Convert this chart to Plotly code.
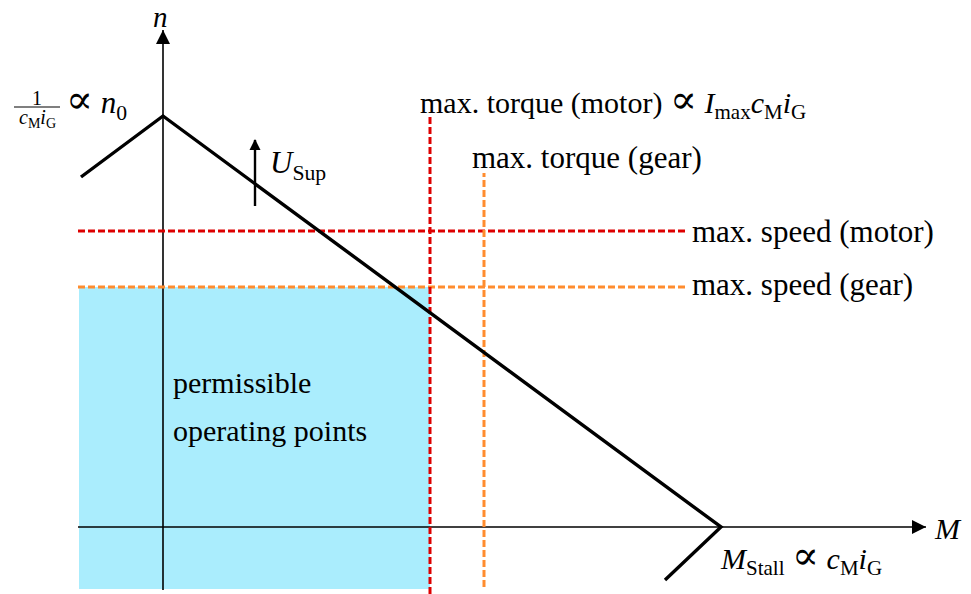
import plotly.graph_objects as go

# Schematic motor/gear characteristic (arbitrary units; origin at M=0, n=0)
n0 = 411            # no-load speed
M_stall = 558       # stall torque
curve_M = [-82, 0, M_stall, 502]
curve_n = [350, n0, 0, -53]

M_max_motor = 267   # max. torque of the motor
M_max_gear = 321    # max. torque of the gear
n_max_motor = 296   # max. speed of the motor
n_max_gear = 240    # max. speed of the gear

x_min, x_max = -163, 808
y_min, y_max = -67, 527
axis_M = [-85, 763]
axis_n = [-63, 497]
limit_end = 523     # right end of the speed-limit lines
region_bottom = -62
u_sup_M = 92
u_sup_n = [321, 387]

RED = "#dd0000"
ORANGE = "#ff8c2e"
BLUE = "#aaedfd"
FONT = "Liberation Serif"
PROP = '<span style="font-size:40px;font-family:DejaVu Serif">∝</span>'

fig = go.Figure()

# permissible operating region
fig.add_trace(go.Scatter(
    x=[axis_M[0] + 1, M_max_motor, M_max_motor, axis_M[0] + 1, axis_M[0] + 1],
    y=[region_bottom, region_bottom, n_max_gear, n_max_gear, region_bottom],
    fill="toself", fillcolor=BLUE, line=dict(width=0), mode="lines",
    hoverinfo="skip"))

# axes
fig.add_trace(go.Scatter(x=axis_M, y=[0, 0], mode="lines",
                         line=dict(color="black", width=1.6)))
fig.add_trace(go.Scatter(x=[0, 0], y=axis_n, mode="lines",
                         line=dict(color="black", width=1.6)))
fig.add_trace(go.Scatter(x=[axis_M[1]], y=[0], mode="markers",
                         marker=dict(symbol="arrow-right", size=14, color="black",
                                     line=dict(width=0))))
fig.add_trace(go.Scatter(x=[0], y=[axis_n[1]], mode="markers",
                         marker=dict(symbol="arrow-up", size=14, color="black",
                                     line=dict(width=0))))

# speed limits
DASH = "7px,3px"
fig.add_trace(go.Scatter(x=[axis_M[0], limit_end], y=[n_max_motor] * 2, mode="lines",
                         line=dict(color=RED, width=3, dash=DASH)))
fig.add_trace(go.Scatter(x=[axis_M[0], limit_end], y=[n_max_gear] * 2, mode="lines",
                         line=dict(color=ORANGE, width=3, dash=DASH)))
# torque limits
fig.add_trace(go.Scatter(x=[M_max_motor] * 2, y=[y_min, n0 - 1], mode="lines",
                         line=dict(color=RED, width=3, dash=DASH)))
fig.add_trace(go.Scatter(x=[M_max_gear] * 2, y=[y_min + 7, n0 - 57], mode="lines",
                         line=dict(color=ORANGE, width=3, dash=DASH)))

# characteristic curve
fig.add_trace(go.Scatter(x=curve_M, y=curve_n, mode="lines",
                         line=dict(color="black", width=3.4)))

# supply voltage arrow
fig.add_trace(go.Scatter(x=[u_sup_M] * 2, y=u_sup_n, mode="lines",
                         line=dict(color="black", width=2.4)))
fig.add_trace(go.Scatter(x=[u_sup_M], y=[u_sup_n[1] + 1], mode="markers",
                         marker=dict(symbol="arrow-up", size=11, color="black",
                                     line=dict(width=0))))

# fraction bar of 1/(c_M i_G)
fig.add_shape(type="line", x0=-149, x1=-103, y0=420, y1=420,
              line=dict(color="black", width=1.2))

def label(x, y, text, size=30, xanchor="left"):
    fig.add_annotation(x=x, y=y, text=text, showarrow=False, xanchor=xanchor,
                       yanchor="middle", font=dict(family=FONT, size=size, color="black"))

label(-3, 510, "<i>n</i>", size=29, xanchor="center")
label(-126, 429, "1", size=20, xanchor="center")
label(-126, 409, "<i>c</i><sub>M</sub><i>i</i><sub>G</sub>", size=20, xanchor="center")
label(-99, 427, PROP + " <i>n</i><sub>0</sub>", size=31)
label(255, 427, "max. torque (motor) " + PROP +
      " <i>I</i><sub>max</sub><i>c</i><sub>M</sub><i>i</i><sub>G</sub>", size=30)
label(307, 370, "max. torque (gear)", size=31)
label(527, 296, "max. speed (motor)", size=31)
label(527, 243, "max. speed (gear)", size=31)
label(105, 362, "<i>U</i><sub>Sup</sub>", size=31)
label(8, 145, "permissible")
label(8, 97, "operating points")
label(769, -1, "<i>M</i>", size=30)
label(555, -29, "<i>M</i><sub>Stall</sub> " + PROP +
      " <i>c</i><sub>M</sub><i>i</i><sub>G</sub>", size=30)

fig.update_layout(
    width=971, height=594, margin=dict(l=0, r=0, t=0, b=0),
    paper_bgcolor="white", plot_bgcolor="white", showlegend=False,
    xaxis=dict(range=[x_min, x_max], visible=False, fixedrange=True),
    yaxis=dict(range=[y_min, y_max], visible=False, fixedrange=True),
)

fig.write_html("out.html")
